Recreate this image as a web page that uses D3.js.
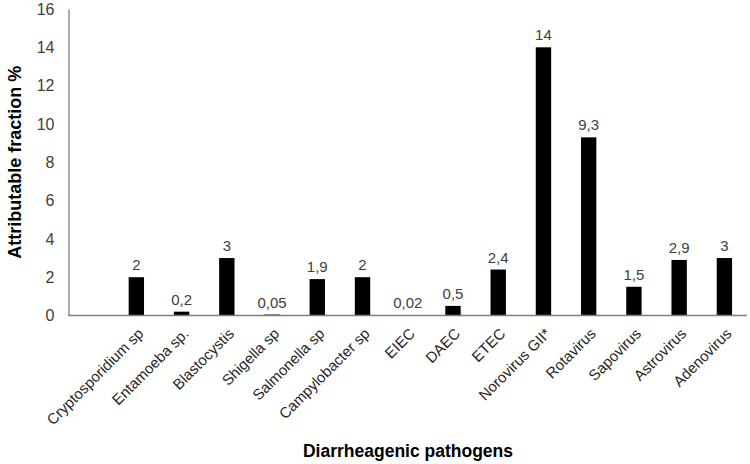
<!DOCTYPE html>
<html><head><meta charset="utf-8">
<script src="https://cdn.jsdelivr.net/npm/d3@7"></script>
<style>body{margin:0;background:#fff}svg{display:block}text{font-family:"Liberation Sans",Arial,sans-serif}</style>
</head><body>
<svg id="c" width="750" height="464"></svg>
<script>
const categories = ["Cryptosporidium sp","Entamoeba sp.","Blastocystis","Shigella sp","Salmonella sp","Campylobacter sp","EIEC","DAEC","ETEC","Norovirus GII*","Rotavirus","Sapovirus","Astrovirus","Adenovirus"];
const values = [2,0.2,3,0.05,1.9,2,0.02,0.5,2.4,14,9.3,1.5,2.9,3];
const yTicks = [0,2,4,6,8,10,12,14,16];

const svg = d3.select("#c");
const x0 = 68.5, x1 = 747, yTop = 9, yBot = 315.5;
const step = (x1 - x0) / (categories.length + 1);
const x = d3.scaleBand().domain(categories).range([x0 + step, x1]).paddingInner(0.66).paddingOuter(0.33);
const y = d3.scaleLinear().domain([0,16]).range([yBot, yTop]);

// y axis
const ya = svg.append("g").attr("transform",`translate(${x0},0)`).call(d3.axisLeft(y).tickValues(yTicks).tickSize(0).tickPadding(14));
ya.select(".domain").attr("stroke","#7f7f7f").attr("stroke-width",1.3);
ya.selectAll("text").attr("font-size",16).attr("fill","#404040");

// bars
svg.append("g").selectAll("rect").data(categories).join("rect")
  .attr("x", d => x(d)).attr("width", x.bandwidth())
  .attr("y", (d,i) => y(values[i])).attr("height", (d,i) => yBot - y(values[i]))
  .attr("fill","#000");

// value labels
svg.append("g").selectAll("text").data(categories).join("text")
  .attr("x", d => x(d) + x.bandwidth()/2).attr("y", (d,i) => y(values[i]) - 7)
  .attr("text-anchor","middle").attr("font-size",15).attr("fill","#404040")
  .text((d,i) => String(values[i]).replace(".", ","));

// x axis
const xa = svg.append("g").attr("transform",`translate(0,${yBot})`).call(d3.axisBottom(x).tickSize(0).tickSizeOuter(0));
xa.select(".domain").remove();
svg.append("line").attr("x1",x0).attr("x2",x1).attr("y1",yBot).attr("y2",yBot).attr("stroke","#7f7f7f").attr("stroke-width",1.3);
xa.selectAll("text").attr("font-size",15).attr("fill","#262626")
  .attr("text-anchor","end").attr("dy",0)
  .attr("transform","translate(6,17) rotate(-45)");

// titles
svg.append("text").attr("transform",`translate(15,${(yTop+yBot)/2}) rotate(-90)`)
  .attr("text-anchor","middle").attr("dy","0.35em").attr("font-size",18).attr("font-weight","bold").attr("fill","#000")
  .text("Attributable fraction %");
svg.append("text").attr("x",408).attr("y",457).attr("text-anchor","middle")
  .attr("font-size",17.5).attr("font-weight","bold").attr("fill","#000").text("Diarrheagenic pathogens");
</script>
</body></html>
